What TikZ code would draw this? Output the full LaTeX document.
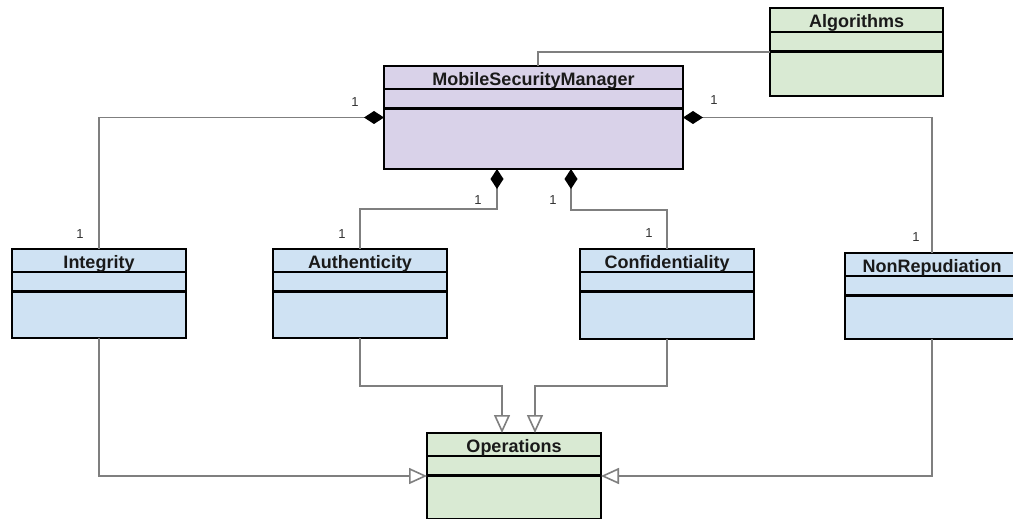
\documentclass[tikz,border=0pt]{standalone}
\usepackage{fontspec}
\setmainfont{Liberation Sans}
\usetikzlibrary{arrows.meta,calc}
\definecolor{purplefill}{HTML}{D9D2E9}
\definecolor{bluefill}{HTML}{CFE2F3}
\definecolor{greenfill}{HTML}{D9EAD3}
\definecolor{conncol}{HTML}{7F7F7F}
\definecolor{titlecol}{HTML}{1A1A1A}
\definecolor{labcol}{HTML}{333333}
\tikzset{
  umlbox/.style={draw=black, line width=2.2bp, rectangle, inner sep=0pt, outer sep=0pt, anchor=north west},
  divider/.style={draw=black, line width=2.2bp},
  umltitle/.style={text=titlecol, font=\fontsize{18bp}{20bp}\selectfont\bfseries, inner sep=0pt, anchor=base},
  conn/.style={draw=conncol, line width=1.6bp},
  comp/.style={conn, {Diamond[length=20bp, width=13bp, fill=black, color=black]}-},
  gen/.style={conn, -{Triangle[open, length=18bp, width=16bp, fill=white]}},
  mult/.style={text=labcol, font=\fontsize{13bp}{15bp}\selectfont, inner sep=0pt},
}
\newcommand{\umlclass}[8]{%
  % #1 name, #2 x, #3 y, #4 w, #5 h, #6 fill, #7 title, #8 title height; second divider at +19.5
  \node[umlbox, fill=#6, minimum width=#4bp, minimum height=#5bp] (#1) at (#2,#3) {};
  \draw[divider] ([yshift=-#8bp]#1.north west) -- ([yshift=-#8bp]#1.north east);
  \draw[divider] ([yshift=-#8bp-19.5bp]#1.north west) -- ([yshift=-#8bp-19.5bp]#1.north east);
  \node[umltitle] (#1-t) at ([yshift=-19.5bp]#1.north) {#7};
}
\begin{document}
\begin{tikzpicture}[x=1bp, y=-1bp]
\useasboundingbox (0,0) rectangle (1013,519);
\fill[white] (0,0) rectangle (1013,519);

\umlclass{msm}{384}{66}{299}{103}{purplefill}{MobileSecurityManager}{23}
\umlclass{alg}{770}{8}{173}{88}{greenfill}{Algorithms}{24}
\umlclass{int}{12}{249}{174}{89}{bluefill}{Integrity}{23}
\umlclass{auth}{273}{249}{174}{89}{bluefill}{Authenticity}{23}
\umlclass{conf}{580}{249}{174}{90}{bluefill}{Confidentiality}{23}
\umlclass{nr}{845}{253}{174}{86}{bluefill}{NonRepudiation}{23}
\umlclass{ops}{427}{433}{174}{86}{greenfill}{Operations}{23}

% association to Algorithms
\draw[conn] ([xshift=4.5bp]msm.north) |- (alg.west);

% compositions
\draw[comp] (msm.west) -| (int.north);
\draw[comp] (msm.east) -| (nr.north);
\draw[comp] ([xshift=-36.5bp]msm.south) -- ++(0,40) -| (auth.north);
\draw[comp] ([xshift=37.5bp]msm.south) -- ++(0,41) -| (conf.north);

% generalizations
\draw[gen] (auth.south) -- ++(0,48) -| ([xshift=-12bp]ops.north);
\draw[gen] (conf.south) -- ++(0,47) -| ([xshift=21bp]ops.north);
\draw[gen] (int.south) |- (ops.west);
\draw[gen] (nr.south) |- (ops.east);

% multiplicities
\node[mult] (m1) at (355,102) {1};
\node[mult] (m2) at (714,100) {1};
\node[mult] (m3) at (80,234) {1};
\node[mult] (m4) at (342,234) {1};
\node[mult] (m5) at (478,200) {1};
\node[mult] (m6) at (553,200) {1};
\node[mult] (m7) at (649,233) {1};
\node[mult] (m8) at (916,237) {1};
\end{tikzpicture}
\end{document}
